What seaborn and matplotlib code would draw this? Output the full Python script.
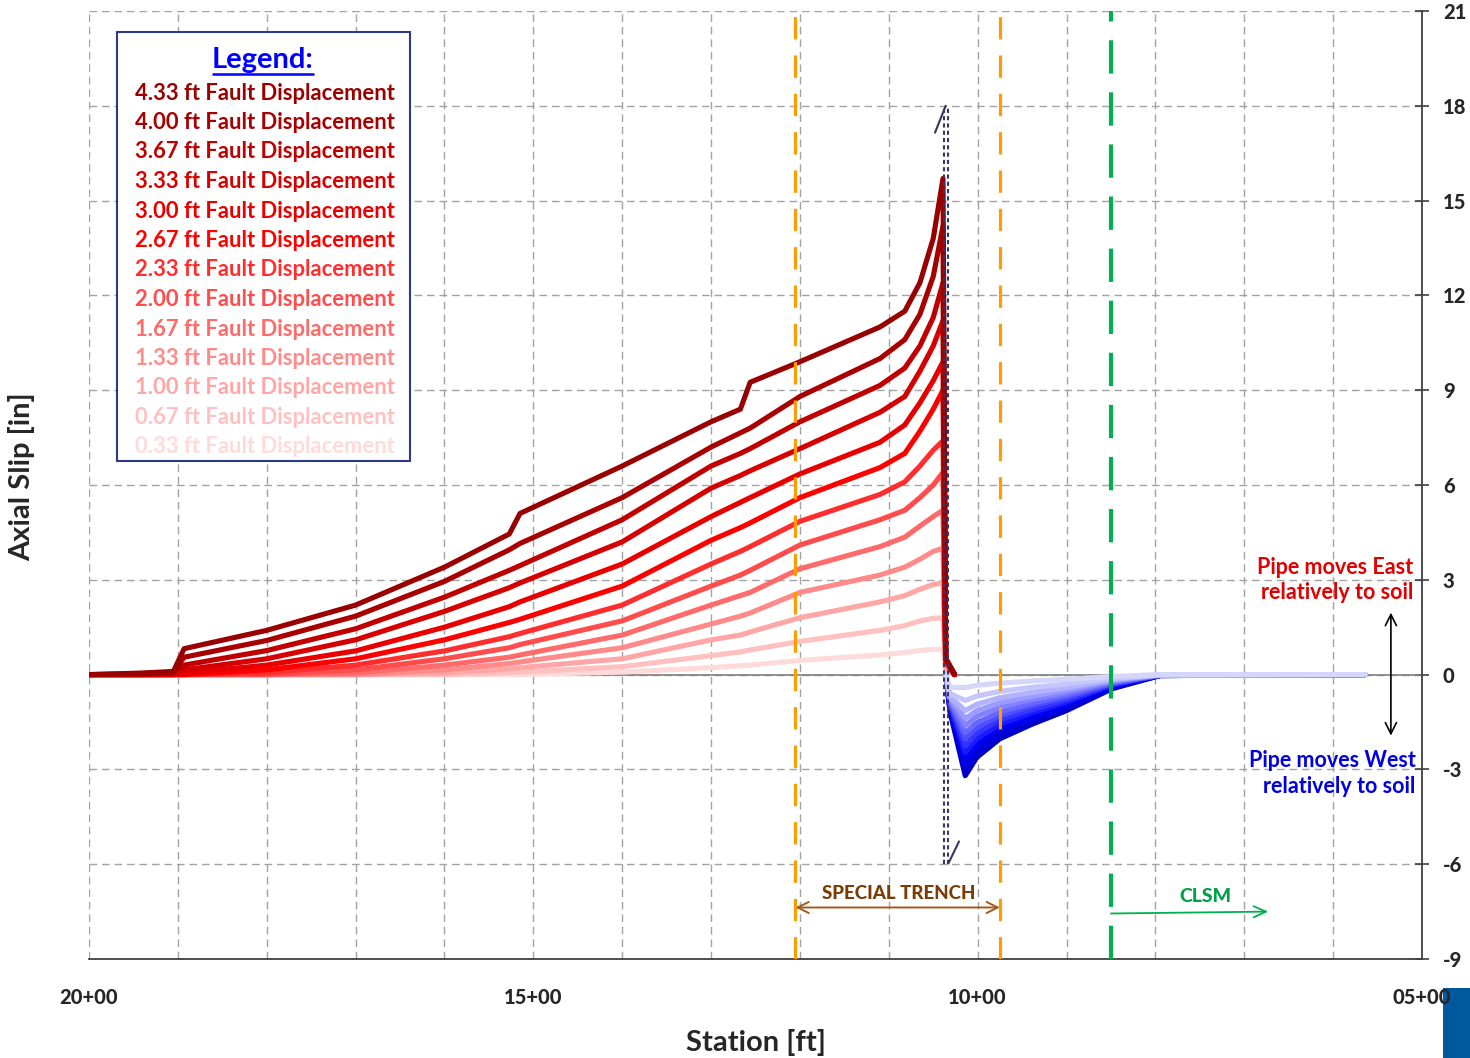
import numpy as np
import pandas as pd
import matplotlib
matplotlib.use("Agg")
import matplotlib.pyplot as plt
import seaborn as sns
from matplotlib.patches import Rectangle, FancyArrowPatch
from matplotlib.ticker import MultipleLocator, FixedLocator

# ---------------- data ----------------
fault_labels = ["4.33", "4.00", "3.67", "3.33", "3.00", "2.67", "2.33",
                "2.00", "1.67", "1.33", "1.00", "0.67", "0.33"]

red_colors = ["#990000", "#a80000", "#c00000", "#d60000", "#e80000", "#ff0000",
              "#ff2e2e", "#ff4c4c", "#ff6a6a", "#ff8a8a", "#ffa6a6", "#ffc0c0", "#ffdada"]
blue_colors = ["#0000c4", "#0000d4", "#0000e4", "#0000f4", "#1a1aff", "#3434ff",
               "#4e4eff", "#6868ff", "#8282ff", "#9c9cff", "#b2b2ff", "#c6c6ff", "#d6d6fa"]

# station [ft] for the East-moving (positive) part
red_station = [2000, 1940, 1905, 1893, 1800, 1700, 1600, 1527, 1515, 1400, 1300,
               1267, 1256, 1200, 1110, 1082, 1065, 1050, 1039, 1036, 1026]
red_433 = [0, 0.05, 0.10, 0.82, 1.40, 2.20, 3.40, 4.45, 5.10, 6.60, 8.00, 8.40, 9.25, 9.90, 11.0, 11.5, 12.4, 13.8, 15.7, 0.5, 0]
red_400 = [0, 0.03, 0.08, 0.55, 1.08, 1.85, 2.95, 3.95, 4.15, 5.60, 7.20, 7.65, 7.80, 8.80, 10.0, 10.6, 11.4, 12.6, 14.2, 0.5, 0]
red_367 = [0, 0.00, 0.05, 0.30, 0.76, 1.45, 2.45, 3.30, 3.45, 4.90, 6.60, 7.00, 7.15, 8.00, 9.15, 9.7, 10.4, 11.3, 12.4, 0.5, 0]
red_333 = [0, 0.00, 0.00, 0.15, 0.50, 1.10, 2.00, 2.75, 2.90, 4.20, 5.90, 6.30, 6.45, 7.15, 8.30, 8.8, 9.6, 10.4, 11.2, 0.5, 0]
red_300 = [0, 0.00, 0.00, 0.05, 0.30, 0.75, 1.50, 2.15, 2.30, 3.50, 5.00, 5.45, 5.60, 6.35, 7.35, 7.9, 8.6, 9.3, 9.9, 0.5, 0]
red_267 = [0, 0.00, 0.00, 0.00, 0.15, 0.50, 1.10, 1.65, 1.75, 2.80, 4.25, 4.65, 4.80, 5.60, 6.55, 7.0, 7.7, 8.4, 9.0, 0.5, 0]
red_233 = [0, 0.00, 0.00, 0.00, 0.06, 0.30, 0.75, 1.20, 1.30, 2.20, 3.50, 3.90, 4.05, 4.85, 5.70, 6.1, 6.6, 7.1, 7.4, 0.4, 0]
red_200 = [0, 0.00, 0.00, 0.00, 0.00, 0.15, 0.50, 0.85, 0.95, 1.70, 2.80, 3.15, 3.30, 4.10, 4.90, 5.2, 5.6, 6.0, 6.4, 0.4, 0]
red_167 = [0, 0.00, 0.00, 0.00, 0.00, 0.05, 0.30, 0.55, 0.62, 1.25, 2.20, 2.50, 2.60, 3.35, 4.05, 4.35, 4.7, 5.0, 5.2, 0.35, 0]
red_133 = [0, 0.00, 0.00, 0.00, 0.00, 0.00, 0.15, 0.35, 0.40, 0.85, 1.60, 1.85, 1.95, 2.60, 3.15, 3.4, 3.65, 3.9, 4.0, 0.3, 0]
red_100 = [0, 0.00, 0.00, 0.00, 0.00, 0.00, 0.05, 0.18, 0.22, 0.50, 1.10, 1.25, 1.35, 1.80, 2.30, 2.5, 2.7, 2.85, 2.9, 0.25, 0]
red_067 = [0, 0.00, 0.00, 0.00, 0.00, 0.00, 0.00, 0.06, 0.08, 0.25, 0.60, 0.72, 0.78, 1.05, 1.40, 1.55, 1.7, 1.78, 1.8, 0.2, 0]
red_033 = [0, 0.00, 0.00, 0.00, 0.00, 0.00, 0.00, 0.00, 0.00, 0.08, 0.22, 0.28, 0.30, 0.45, 0.62, 0.7, 0.76, 0.8, 0.8, 0.1, 0]

# station [ft] for the West-moving (negative) part
blue_station = [1036, 1031, 1014, 1001, 975, 938, 900, 849, 795, 564]
blue_433 = [0, -1.20, -3.20, -2.62, -2.03, -1.56, -1.14, -0.45, -0.03, 0]
blue_400 = [0, -1.15, -2.97, -2.45, -1.90, -1.45, -1.05, -0.42, -0.03, 0]
blue_367 = [0, -1.10, -2.82, -2.32, -1.80, -1.38, -1.00, -0.40, -0.03, 0]
blue_333 = [0, -1.05, -2.63, -2.17, -1.68, -1.28, -0.93, -0.37, -0.02, 0]
blue_300 = [0, -1.00, -2.47, -2.03, -1.57, -1.20, -0.87, -0.34, -0.02, 0]
blue_267 = [0, -0.95, -2.25, -1.85, -1.43, -1.10, -0.80, -0.31, -0.02, 0]
blue_233 = [0, -0.90, -2.03, -1.67, -1.30, -0.98, -0.72, -0.28, -0.02, 0]
blue_200 = [0, -0.85, -1.84, -1.52, -1.18, -0.90, -0.65, -0.26, -0.02, 0]
blue_167 = [0, -0.80, -1.61, -1.32, -1.03, -0.78, -0.57, -0.22, -0.01, 0]
blue_133 = [0, -0.75, -1.39, -1.14, -0.89, -0.68, -0.49, -0.19, -0.01, 0]
blue_100 = [0, -0.70, -1.14, -0.94, -0.73, -0.56, -0.41, -0.16, -0.01, 0]
blue_067 = [0, -0.60, -0.82, -0.68, -0.53, -0.40, -0.30, -0.12, -0.01, 0]
blue_033 = [0, -0.40, -0.41, -0.34, -0.27, -0.20, -0.15, -0.06, 0.00, 0]

x_tick_pos = [2000, 1500, 1000, 500]
x_tick_labels = ["20+00", "15+00", "10+00", "05+00"]
y_ticks = [-9, -6, -3, 0, 3, 6, 9, 12, 15, 18, 21]

trench_west, trench_east = 1205, 975
clsm_start = 850
fault_a, fault_b = 1038, 1033.5

red_series = [red_433, red_400, red_367, red_333, red_300, red_267, red_233,
              red_200, red_167, red_133, red_100, red_067, red_033]
blue_series = [blue_433, blue_400, blue_367, blue_333, blue_300, blue_267, blue_233,
               blue_200, blue_167, blue_133, blue_100, blue_067, blue_033]

red_df = pd.DataFrame([(lab, s, v) for lab, vals in zip(fault_labels, red_series)
                       for s, v in zip(red_station, vals)], columns=["fd", "station", "slip"])
blue_df = pd.DataFrame([(lab, s, v) for lab, vals in zip(fault_labels, blue_series)
                        for s, v in zip(blue_station, vals)], columns=["fd", "station", "slip"])

# ---------------- style ----------------
sns.set_style("white")
plt.rcParams["font.family"] = ["Lato", "DejaVu Sans"]
plt.rcParams["font.weight"] = "bold"
plt.rcParams["axes.labelweight"] = "bold"
plt.rcParams["lines.solid_capstyle"] = "round"
plt.rcParams["lines.solid_joinstyle"] = "round"
plt.rcParams["axes.unicode_minus"] = False
BOLD = "bold"
HEAVY = "black"

W, H = 1470, 1058
fig = plt.figure(figsize=(W / 100, H / 100), dpi=100)
ax = fig.add_axes([89 / W, 1 - 959 / H, (1422 - 89) / W, (959 - 11) / H])

def fx(px):
    return px / W

def fy(py):
    return 1 - py / H

# curves
sns.lineplot(data=red_df, x="station", y="slip", hue="fd",
             hue_order=fault_labels[::-1], palette=dict(zip(fault_labels, red_colors)),
             estimator=None, sort=False, lw=3.7, legend=False, ax=ax, zorder=3)
sns.lineplot(data=blue_df, x="station", y="slip", hue="fd",
             hue_order=fault_labels, palette=dict(zip(fault_labels, blue_colors)),
             estimator=None, sort=False, lw=3.7, legend=False, ax=ax, zorder=3)

# axes / grid
ax.set_xlim(2000, 500)
ax.set_ylim(-9, 21)
ax.xaxis.set_major_locator(FixedLocator(x_tick_pos))
ax.xaxis.set_minor_locator(MultipleLocator(100))
ax.set_xticklabels(x_tick_labels)
ax.set_yticks(y_ticks)
ax.set_yticklabels([str(v) for v in y_ticks])
ax.grid(which="both", axis="x", color="#a3a3a3", ls=(0, (5.5, 3.5)), lw=1.0)
ax.grid(which="major", axis="y", color="#a3a3a3", ls=(0, (5.5, 3.5)), lw=1.0)
ax.set_axisbelow(True)

for side in ["left", "top"]:
    ax.spines[side].set_visible(False)
for side in ["bottom", "right"]:
    ax.spines[side].set_color("#404040")
    ax.spines[side].set_linewidth(1.3)
ax.yaxis.tick_right()
ax.tick_params(axis="y", which="major", direction="inout", length=10, width=1.2,
               color="#404040", pad=10, labelsize=14.5)
ax.tick_params(axis="x", which="major", direction="inout", length=10, width=1.2,
               color="#404040", pad=16, labelsize=14.5)
ax.tick_params(axis="x", which="minor", length=0)

ax.axhline(0, color="#7f7f7f", lw=1.2, zorder=1.5)

# vertical reference lines
ax.axvline(trench_west, color="#ff9c00", lw=2.3, ls=(0, (7, 5)), zorder=4)
ax.axvline(trench_east, color="#ff9c00", lw=2.3, ls=(0, (7, 5)), zorder=4)
ax.axvline(clsm_start, color="#00b050", lw=3.0, ls=(0, (8, 4.5)), zorder=4)

# fault trace
for fs in (fault_a, fault_b):
    ax.plot([fs, fs], [-6, 18], color="#3b3462", lw=1.5, ls=(0, (2, 1.5)), zorder=5)
ax.plot([1048, 1036], [17.15, 18.0], color="#3b3462", lw=1.5, zorder=5)
ax.plot([1033, 1021], [-5.98, -5.28], color="#3b3462", lw=1.5, zorder=5)

# annotations
ax.add_patch(FancyArrowPatch((trench_west, -7.37), (trench_east, -7.37),
                             arrowstyle="<->,head_length=8,head_width=4",
                             color="#a5581c", lw=1.4, zorder=5, shrinkA=0, shrinkB=0))
ax.text(1089, -6.93, "SPECIAL TRENCH", color="#7a3d05", fontsize=13.5, fontweight=HEAVY,
        ha="center", va="center", zorder=6)
ax.add_patch(FancyArrowPatch((clsm_start, -7.56), (673, -7.5),
                             arrowstyle="->,head_length=9,head_width=4",
                             color="#00b050", lw=1.3, zorder=5, shrinkA=0, shrinkB=0))
ax.text(744, -7.03, "CLSM", color="#00a04a", fontsize=14, fontweight=HEAVY,
        ha="center", va="center", zorder=6)

ax.text(510, 3.0, "Pipe moves East\nrelatively to soil", color="#e00000", fontsize=15.5,
        fontweight=BOLD, ha="right", va="center", multialignment="right",
        linespacing=1.25, zorder=6)
ax.text(507, -3.13, "Pipe moves West\nrelatively to soil", color="#0000e0", fontsize=15.5,
        fontweight=BOLD, ha="right", va="center", multialignment="right",
        linespacing=1.25, zorder=6)
ax.add_patch(FancyArrowPatch((535, 1.96), (535, -1.93), arrowstyle="<->,head_length=8,head_width=4",
                             color="black", lw=1.2, zorder=5, shrinkA=0, shrinkB=0))

# axis labels
ax.set_ylabel("")
ax.set_xlabel("Station [ft]", fontsize=21, fontweight=BOLD)
ax.xaxis.set_label_coords(0.5, -(1042 - 959) / (959 - 11), transform=ax.transAxes)
ax.xaxis.label.set_va("center")
fig.text(fx(22), fy(477), "Axial Slip [in]", rotation=90, fontsize=21, fontweight=BOLD,
         ha="center", va="center")

# legend box
ax.add_patch(Rectangle((fx(117), fy(461)), fx(410) - fx(117), fy(32) - fy(461),
                       transform=fig.transFigure, facecolor="white", edgecolor="#2b3a8a",
                       lw=1.5, zorder=7))
ax.text(fx(263), fy(60), "Legend:", transform=fig.transFigure, color="#0000ff",
        fontsize=21, fontweight=BOLD, ha="center", va="center", zorder=8)
ax.plot([fx(212), fx(314)], [fy(74), fy(74)], transform=fig.transFigure, color="#0000ff",
        lw=1.8, zorder=8, solid_capstyle="butt")
for i, (lab, col) in enumerate(zip(fault_labels, red_colors)):
    ax.text(fx(265), fy(93 + i * 29.5), f"{lab} ft Fault Displacement", transform=fig.transFigure,
            color=col, fontsize=15.8, fontweight=BOLD, ha="center", va="center", zorder=8)

# corner decoration
fig.patches.append(Rectangle((fx(1443), 0), fx(1470) - fx(1443), fy(988), transform=fig.transFigure,
                             facecolor="#00599c", edgecolor="none", zorder=-1))

fig.canvas.draw()
for t in ax.xaxis.get_major_ticks() + ax.yaxis.get_major_ticks():
    t.label1.set_fontweight(HEAVY)
    t.label2.set_fontweight(HEAVY)

fig.savefig("out.png", dpi=100)
